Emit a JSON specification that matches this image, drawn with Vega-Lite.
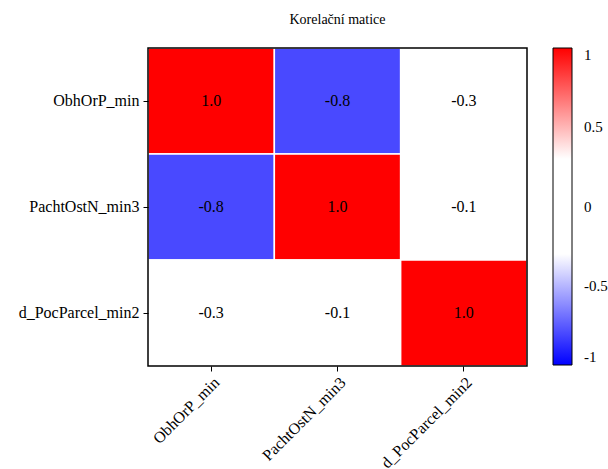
{
  "$schema": "https://vega.github.io/schema/vega-lite/v6.json",
  "autosize": {"type": "none"},
  "padding": {"left": 148, "top": 48, "right": 81, "bottom": 103},
  "width": 379,
  "height": 318,
  "title": {"text": "Korelační matice", "font": "Liberation Serif", "fontSize": 14, "fontWeight": "normal", "color": "black", "offset": 20},
  "encoding": {
    "x": {"field": "x", "type": "nominal", "sort": ["ObhOrP_min", "PachtOstN_min3", "d_PocParcel_min2"], "title": null,
      "axis": {"labelAngle": -45, "labelAlign": "right", "labelBaseline": "top", "labelFont": "Liberation Serif", "labelFontSize": 16, "labelColor": "black", "domain": false, "tickColor": "black", "tickSize": 5, "labelPadding": 3}},
    "y": {"field": "y", "type": "nominal", "sort": ["ObhOrP_min", "PachtOstN_min3", "d_PocParcel_min2"], "title": null,
      "axis": {"labelFont": "Liberation Serif", "labelFontSize": 16, "labelColor": "black", "domain": false, "tickColor": "black", "tickSize": 5, "labelPadding": 4}}
  },
  "layer": [
    {
      "data": {"values": [
        {"x": "ObhOrP_min", "y": "ObhOrP_min", "r": 1.0},
        {"x": "PachtOstN_min3", "y": "ObhOrP_min", "r": -0.8},
        {"x": "d_PocParcel_min2", "y": "ObhOrP_min", "r": -0.3},
        {"x": "ObhOrP_min", "y": "PachtOstN_min3", "r": -0.8},
        {"x": "PachtOstN_min3", "y": "PachtOstN_min3", "r": 1.0},
        {"x": "d_PocParcel_min2", "y": "PachtOstN_min3", "r": -0.1},
        {"x": "ObhOrP_min", "y": "d_PocParcel_min2", "r": -0.3},
        {"x": "PachtOstN_min3", "y": "d_PocParcel_min2", "r": -0.1},
        {"x": "d_PocParcel_min2", "y": "d_PocParcel_min2", "r": 1.0}
      ], "name": "corr"},
      "layer": [
        {
          "mark": {"type": "rect", "stroke": "white", "strokeWidth": 1.5},
          "encoding": {
            "color": {"field": "r", "type": "quantitative", "title": null,
              "scale": {"domain": [-1, -0.3, 0.3, 1], "range": ["#0000ff", "#ffffff", "#ffffff", "#ff0000"], "interpolate": "rgb"},
              "legend": {"values": [-1, -0.5, 0, 0.5, 1], "format": "~g", "gradientLength": 317, "gradientThickness": 19,
                "gradientStrokeColor": "black", "gradientStrokeWidth": 1, "labelFont": "Liberation Serif", "labelFontSize": 15, "labelColor": "black", "labelOffset": 12,
                "labelBaseline": "middle", "offset": 26, "padding": 0, "labelLimit": 100}}
          }
        },
        {
          "mark": {"type": "text", "fontSize": 16, "color": "black", "font": "Liberation Serif"},
          "encoding": {"text": {"field": "r", "type": "quantitative", "format": ".1f"}}
        }
      ]
    },
    {
      "data": {"values": [{"frame": 1}]},
      "mark": {"type": "rect", "fill": null, "stroke": "black", "strokeWidth": 1.5},
      "encoding": {"x": null, "y": null}
    }
  ],
  "config": {
    "font": "Liberation Serif",
    "locale": {"number": {"decimal": ".", "thousands": ",", "grouping": [3], "currency": ["$", ""], "minus": "-"}},
    "view": {"stroke": null},
    "axis": {"grid": false, "labelFontSize": 16},
    "legend": {"labelFontSize": 15, "labelFont": "Liberation Serif"},
    "scale": {"bandPaddingInner": 0, "bandPaddingOuter": 0}
  }
}
